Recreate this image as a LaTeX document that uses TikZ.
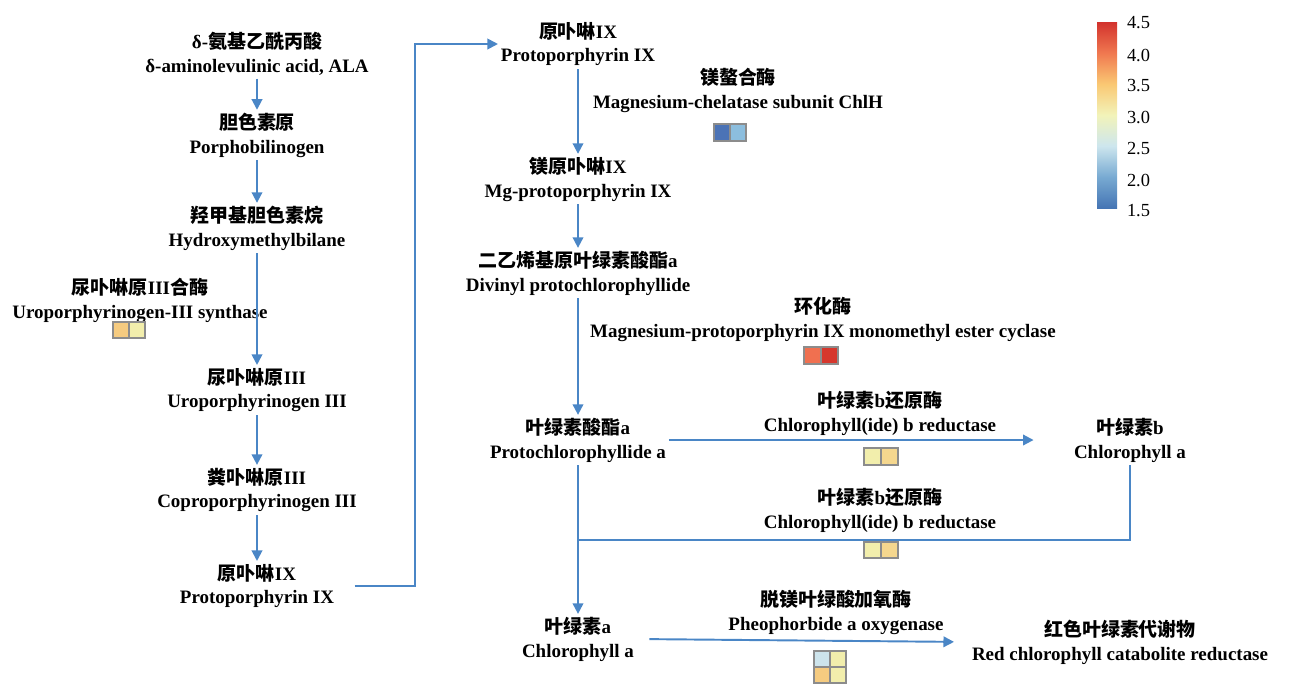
\documentclass[tikz,border=0pt]{standalone}
\usepackage{fontspec}
\setmainfont{Liberation Serif}
\newfontfamily\cjk{Noto Sans CJK SC}
\usetikzlibrary{arrows.meta,positioning}
\definecolor{flowblue}{RGB}{74,134,198}
\definecolor{cellgray}{RGB}{140,140,140}
% heatmap colours
\definecolor{hmA}{RGB}{69,117,180}
\definecolor{hmB}{RGB}{120,170,210}
\definecolor{hmC}{RGB}{205,230,238}
\definecolor{hmD}{RGB}{242,243,185}
\definecolor{hmE}{RGB}{250,200,115}
\definecolor{hmF}{RGB}{240,120,80}
\definecolor{hmG}{RGB}{210,50,45}
\definecolor{cDarkBlue}{RGB}{75,115,182}
\definecolor{cLightBlue}{RGB}{140,190,222}
\definecolor{cOrange}{RGB}{240,112,80}
\definecolor{cRed}{RGB}{214,55,45}
\definecolor{cAmber}{RGB}{245,203,128}
\definecolor{cPale}{RGB}{242,238,172}
\definecolor{cSand}{RGB}{245,215,142}
\definecolor{cPaleBlue}{RGB}{205,228,236}
\pgfdeclareverticalshading{rdylbu}{100bp}{color(0bp)=(hmA); color(25bp)=(hmA);
  color(33.33bp)=(hmB); color(41.67bp)=(hmC); color(50bp)=(hmD);
  color(58.33bp)=(hmE); color(66.67bp)=(hmF); color(75bp)=(hmG); color(100bp)=(hmG)}

\begin{document}
\begin{tikzpicture}[x=0.02cm,y=-0.02cm,
  every node/.style={font=\fontsize{10.8}{13.6}\selectfont\bfseries, align=center, inner sep=1.5pt},
  flow/.style={draw=flowblue, line width=1.1pt, -{Triangle[length=6pt,width=6pt]}},
  link/.style={draw=flowblue, line width=1.1pt},
  cell/.style={draw=cellgray, line width=1.2pt}]
\useasboundingbox (0,0) rectangle (1293,684);

% left column
\node (ala) at (257,54) {δ-{\cjk 氨基乙酰丙酸}\\δ-aminolevulinic acid, ALA};
\node (pbg) at (257,135) {{\cjk 胆色素原}\\Porphobilinogen};
\node (hmb) at (257,228) {{\cjk 羟甲基胆色素烷}\\Hydroxymethylbilane};
\node (urosyn) at (140,300) {{\cjk 尿卟啉原}III{\cjk 合酶}\\Uroporphyrinogen-III synthase};
\node (urogen) at (257,390) {{\cjk 尿卟啉原}III\\Uroporphyrinogen III};
\node (coprogen) at (257,490) {{\cjk 粪卟啉原}III\\Coproporphyrinogen III};
\node (protoL) at (257,586) {{\cjk 原卟啉}IX\\Protoporphyrin IX};

\draw[flow] (ala) -- (pbg);
\draw[flow] (pbg) -- (hmb);
\draw[flow] (hmb) -- (urogen);
\draw[flow] (urogen) -- (coprogen);
\draw[flow] (coprogen) -- (protoL);

% middle column
\node (protoR) at (578,44) {{\cjk 原卟啉}IX\\Protoporphyrin IX};
\node (chlh) at (738,90) {{\cjk 镁螯合酶}\\Magnesium-chelatase subunit ChlH};
\node (mgproto) at (578,179) {{\cjk 镁原卟啉}IX\\Mg-protoporphyrin IX};
\node (dvpchl) at (578,273) {{\cjk 二乙烯基原叶绿素酸酯}a\\Divinyl protochlorophyllide};
\node (cyclase) at (823,319) {{\cjk 环化酶}\\Magnesium-protoporphyrin IX monomethyl ester cyclase};
\node (pchla) at (578,440) {{\cjk 叶绿素酸酯}a\\Protochlorophyllide a};
\node (cbrA) at (880,413) {{\cjk 叶绿素}b{\cjk 还原酶}\\Chlorophyll(ide) b reductase};
\node (chlb) at (1130,440) {{\cjk 叶绿素}b\\Chlorophyll a};
\node (cbrB) at (880,510) {{\cjk 叶绿素}b{\cjk 还原酶}\\Chlorophyll(ide) b reductase};
\node (chla) at (578,639) {{\cjk 叶绿素}a\\Chlorophyll a};
\node (pao) at (836,612) {{\cjk 脱镁叶绿酸加氧酶}\\Pheophorbide a oxygenase};
\node (rccr) at (1120,642) {{\cjk 红色叶绿素代谢物}\\Red chlorophyll catabolite reductase};

\coordinate (bendL) at (415,586);
\coordinate (bendT) at (415,44);
\draw[flow, shorten <=0.35cm] (protoL.east) -- (bendL) -- (bendT) -- (protoR.west);
\draw[flow] (protoR) -- (mgproto);
\draw[flow] (mgproto) -- (dvpchl);
\draw[flow] (dvpchl) -- (pchla);
\draw[flow] (pchla) -- (chla);
\draw[flow, shorten >=0.75cm] (pchla.east) -- (pchla.east -| chlb.west);
\coordinate (cbrC) at (1130,540);
\coordinate (join) at (578,540);
\draw[link] (chlb.south) -- (cbrC) -- (join);
\draw[flow, shorten <=0.25cm, shorten >=0.3cm] (chla.east) -- (rccr.west);

% heatmap cells
\filldraw[cell, fill=cAmber] (113,322) rectangle (129,338);
\filldraw[cell, fill=cPale] (129,322) rectangle (145,338);
\filldraw[cell, fill=cDarkBlue] (714,124) rectangle (730,141);
\filldraw[cell, fill=cLightBlue] (730,124) rectangle (746,141);
\filldraw[cell, fill=cOrange] (804,347) rectangle (821,364);
\filldraw[cell, fill=cRed] (821,347) rectangle (838,364);
\filldraw[cell, fill=cPale] (864,448) rectangle (881,465);
\filldraw[cell, fill=cSand] (881,448) rectangle (898,465);
\filldraw[cell, fill=cPale] (864,542) rectangle (881,558);
\filldraw[cell, fill=cSand] (881,542) rectangle (898,558);
\filldraw[cell, fill=cPaleBlue] (814,651) rectangle (830,667);
\filldraw[cell, fill=cPale] (830,651) rectangle (846,667);
\filldraw[cell, fill=cAmber] (814,667) rectangle (830,683);
\filldraw[cell, fill=cPale] (830,667) rectangle (846,683);

% colour bar
\shade[shading=rdylbu] (1097,22) rectangle (1117,208);
\foreach \v/\yy [count=\i] in {4.5/23, 4.0/55, 3.5/86, 3.0/117, 2.5/149, 2.0/180, 1.5/211}
  \node[font=\fontsize{10.5}{12}\selectfont, anchor=west] (tick\i) at (1124,\yy) {\v};
\end{tikzpicture}
\end{document}
